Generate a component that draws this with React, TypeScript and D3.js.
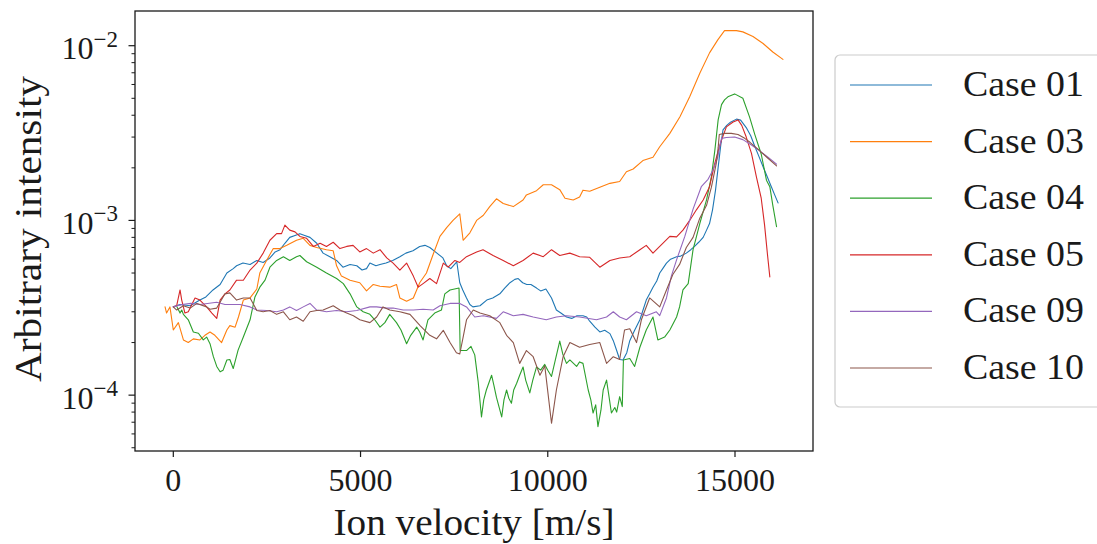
import React from 'react';
import * as d3 from 'd3';

type Pt = [number, number];

// Ion velocity [m/s], arbitrary intensity
const case01: Pt[] = [
  [0, 3.2e-4], [180, 3.3e-4], [450, 3.25e-4], [710, 3.5e-4], [870, 3.65e-4], [1060, 4.0e-4], [1250, 4.3e-4],
  [1430, 5.0e-4], [1600, 5.3e-4], [1690, 5.5e-4], [1860, 5.7e-4], [2050, 5.6e-4], [2230, 5.9e-4], [2400, 5.75e-4],
  [2580, 6.1e-4], [2720, 6.6e-4], [2850, 6.8e-4], [2980, 7.4e-4], [3110, 8.0e-4], [3250, 8.2e-4], [3380, 8.4e-4],
  [3510, 8.2e-4], [3650, 8.0e-4], [3830, 7.4e-4], [4000, 6.5e-4], [4180, 6.2e-4], [4360, 5.9e-4], [4530, 5.4e-4],
  [4720, 5.6e-4], [4900, 5.5e-4], [5040, 5.2e-4], [5160, 5.3e-4], [5250, 5.7e-4], [5410, 5.5e-4], [5520, 5.6e-4],
  [5680, 5.7e-4], [5860, 5.9e-4], [6050, 6.2e-4], [6210, 6.5e-4], [6400, 6.7e-4], [6580, 7.1e-4], [6720, 7.2e-4],
  [6850, 7.0e-4], [7040, 6.5e-4], [7200, 6.1e-4], [7300, 5.5e-4], [7410, 5.3e-4], [7570, 5.8e-4], [7650, 4.4e-4],
  [7730, 4.0e-4], [7830, 3.6e-4], [7920, 3.3e-4], [8000, 3.2e-4], [8190, 3.25e-4], [8370, 3.5e-4], [8530, 3.6e-4],
  [8720, 3.8e-4], [8850, 4.1e-4], [8990, 4.4e-4], [9120, 4.6e-4], [9210, 4.65e-4], [9330, 4.4e-4], [9440, 4.3e-4],
  [9550, 4.3e-4], [9700, 4.1e-4], [9810, 3.95e-4], [9950, 4.05e-4], [10100, 3.6e-4], [10230, 3.07e-4],
  [10350, 2.95e-4], [10500, 2.8e-4], [10640, 2.75e-4], [10780, 2.85e-4], [10940, 2.85e-4], [11040, 2.8e-4],
  [11120, 2.65e-4], [11260, 2.45e-4], [11390, 2.3e-4], [11520, 2.35e-4], [11660, 2.25e-4], [11750, 2.05e-4],
  [11840, 1.8e-4], [11920, 1.6e-4], [12010, 1.59e-4], [12110, 1.75e-4], [12190, 2.05e-4], [12320, 2.35e-4],
  [12460, 2.7e-4], [12540, 3.05e-4], [12630, 3.5e-4], [12720, 3.8e-4], [12810, 4.15e-4], [12910, 4.5e-4],
  [12990, 5.0e-4], [13070, 5.3e-4], [13170, 5.7e-4], [13280, 6.0e-4], [13440, 6.2e-4], [13550, 6.25e-4],
  [13700, 6.5e-4], [13820, 6.8e-4], [13920, 7.1e-4], [14030, 7.5e-4], [14150, 8.0e-4], [14240, 8.8e-4],
  [14320, 9.6e-4], [14400, 1.15e-3], [14480, 1.49e-3], [14560, 2.1e-3], [14620, 2.7e-3], [14680, 3.3e-3],
  [14780, 3.5e-3], [14880, 3.65e-3], [15040, 3.8e-3], [15150, 3.75e-3], [15300, 3.4e-3], [15420, 3.05e-3],
  [15530, 2.65e-3], [15630, 2.35e-3], [15750, 2.03e-3], [15850, 1.8e-3], [15970, 1.56e-3], [16060, 1.4e-3],
  [16150, 1.26e-3],
];

const case03: Pt[] = [
  [-220, 3.2e-4], [-180, 2.95e-4], [-90, 3.2e-4], [0, 2.36e-4], [135, 2.6e-4], [270, 2.07e-4], [400, 2.0e-4],
  [535, 2.1e-4], [710, 2.07e-4], [845, 2.2e-4], [980, 2.3e-4], [1110, 2.2e-4], [1290, 2.0e-4], [1430, 2.36e-4],
  [1510, 2.5e-4], [1650, 2.45e-4], [1740, 2.8e-4], [1870, 3.5e-4], [2050, 3.6e-4], [2230, 4.05e-4], [2310, 5.0e-4],
  [2490, 5.9e-4], [2670, 6.9e-4], [2850, 6.9e-4], [3030, 7.2e-4], [3290, 7.7e-4], [3470, 7.9e-4], [3650, 7.2e-4],
  [3830, 7.0e-4], [4090, 6.8e-4], [4270, 6.7e-4], [4360, 5.5e-4], [4490, 4.8e-4], [4720, 4.55e-4], [4980, 4.4e-4],
  [5160, 3.95e-4], [5340, 4.3e-4], [5520, 4.2e-4], [5780, 4.15e-4], [5960, 4.3e-4], [6050, 3.6e-4], [6230, 3.45e-4],
  [6410, 3.6e-4], [6580, 4.4e-4], [6760, 5.0e-4], [6940, 6.4e-4], [7120, 8.1e-4], [7300, 9.1e-4], [7470, 1.0e-3],
  [7650, 1.09e-3], [7740, 7.7e-4], [7920, 8.5e-4], [8100, 1.0e-3], [8280, 1.07e-3], [8450, 1.2e-3], [8630, 1.33e-3],
  [8810, 1.25e-3], [9080, 1.2e-3], [9340, 1.31e-3], [9430, 1.4e-3], [9700, 1.48e-3], [9880, 1.6e-3],
  [10100, 1.6e-3], [10320, 1.5e-3], [10460, 1.34e-3], [10680, 1.31e-3], [10850, 1.36e-3], [10940, 1.49e-3],
  [11120, 1.47e-3], [11390, 1.55e-3], [11660, 1.63e-3], [11920, 1.67e-3], [12100, 1.9e-3], [12280, 1.97e-3],
  [12540, 2.2e-3], [12810, 2.3e-3], [12990, 2.64e-3], [13260, 3.15e-3], [13530, 3.92e-3], [13790, 5.1e-3],
  [14060, 6.95e-3], [14320, 9.1e-3], [14540, 1.08e-2], [14720, 1.22e-2], [15040, 1.22e-2], [15210, 1.2e-2],
  [15480, 1.13e-2], [15750, 1.03e-2], [16010, 9.2e-3], [16280, 8.35e-3],
];

const case04: Pt[] = [
  [100, 3.2e-4], [180, 2.95e-4], [225, 3.07e-4], [270, 2.9e-4], [400, 2.7e-4], [535, 2.3e-4], [670, 2.26e-4],
  [800, 2.07e-4], [890, 2.15e-4], [980, 1.97e-4], [1070, 1.66e-4], [1160, 1.46e-4], [1250, 1.36e-4],
  [1330, 1.39e-4], [1430, 1.59e-4], [1510, 1.6e-4], [1600, 1.42e-4], [1730, 1.81e-4], [1870, 2.15e-4],
  [2050, 2.7e-4], [2180, 3.65e-4], [2310, 4.15e-4], [2450, 4.55e-4], [2580, 5.4e-4], [2760, 5.9e-4],
  [2940, 6.2e-4], [3110, 5.9e-4], [3290, 6.2e-4], [3380, 6.3e-4], [3560, 5.8e-4], [3830, 5.4e-4], [4090, 5.0e-4],
  [4360, 4.65e-4], [4540, 4.35e-4], [4720, 3.8e-4], [4900, 3.2e-4], [5070, 3.0e-4], [5250, 2.9e-4], [5380, 2.7e-4],
  [5520, 2.45e-4], [5650, 2.6e-4], [5780, 2.9e-4], [5960, 2.6e-4], [6080, 2.36e-4], [6230, 1.97e-4], [6340, 2.2e-4],
  [6500, 2.45e-4], [6580, 2.3e-4], [6670, 2.07e-4], [6800, 2.7e-4], [6980, 2.95e-4], [7160, 3.07e-4],
  [7250, 3.8e-4], [7390, 4.0e-4], [7630, 4.1e-4], [7660, 1.8e-4], [7830, 1.8e-4], [7950, 1.9e-4], [8050, 1.7e-4],
  [8140, 1.2e-4], [8230, 7.5e-5], [8290, 9.4e-5], [8360, 1.07e-4], [8500, 1.3e-4], [8560, 1.14e-4], [8630, 9.7e-5],
  [8770, 7.5e-5], [8830, 9.4e-5], [8900, 1.07e-4], [8960, 9.6e-5], [9030, 9.0e-5], [9090, 1.07e-4], [9170, 1.17e-4],
  [9250, 1.3e-4], [9340, 1.45e-4], [9410, 1.22e-4], [9520, 1.03e-4], [9600, 1.22e-4], [9700, 1.45e-4],
  [9810, 1.39e-4], [9920, 1.5e-4], [10000, 1.39e-4], [10100, 1.28e-4], [10190, 1.55e-4], [10320, 2.04e-4],
  [10400, 1.72e-4], [10500, 1.52e-4], [10590, 1.59e-4], [10770, 1.46e-4], [10850, 1.55e-4], [10940, 1.52e-4],
  [11080, 1.07e-4], [11150, 9.4e-5], [11210, 7.9e-5], [11280, 8.8e-5], [11340, 6.6e-5], [11420, 8.2e-5],
  [11480, 1.07e-4], [11570, 1.22e-4], [11630, 1.0e-4], [11700, 7.9e-5], [11790, 8.5e-5], [11840, 8.0e-5],
  [11920, 9.8e-5], [11990, 8.6e-5], [12020, 1.59e-4], [12190, 1.62e-4], [12320, 1.46e-4], [12460, 1.88e-4],
  [12630, 2.36e-4], [12810, 2.8e-4], [12940, 2.07e-4], [13120, 2.15e-4], [13260, 2.36e-4], [13440, 2.8e-4],
  [13520, 3.2e-4], [13610, 4.0e-4], [13750, 4.35e-4], [13880, 6.8e-4], [14060, 9.6e-4], [14240, 1.31e-3],
  [14370, 1.78e-3], [14460, 2.5e-3], [14550, 3.76e-3], [14640, 4.6e-3], [14720, 4.9e-3], [14810, 5.1e-3],
  [14990, 5.3e-3], [15210, 5.0e-3], [15390, 3.9e-3], [15530, 3.1e-3], [15700, 2.4e-3], [15840, 1.7e-3],
  [15930, 1.56e-3], [16010, 1.22e-3], [16110, 9.2e-4],
];

const case05: Pt[] = [
  [0, 3.2e-4], [90, 3.25e-4], [180, 4.0e-4], [225, 3.5e-4], [310, 2.95e-4], [400, 3.0e-4], [580, 3.6e-4],
  [710, 3.5e-4], [890, 3.2e-4], [1030, 2.95e-4], [1160, 2.75e-4], [1250, 3.5e-4], [1380, 3.8e-4], [1510, 4.0e-4],
  [1690, 4.55e-4], [1870, 4.55e-4], [2050, 5.2e-4], [2230, 5.7e-4], [2400, 6.5e-4], [2580, 7.7e-4], [2760, 8.4e-4],
  [2890, 8.4e-4], [2980, 9.4e-4], [3110, 8.8e-4], [3250, 8.6e-4], [3380, 8.1e-4], [3560, 7.9e-4], [3740, 7.1e-4],
  [3920, 7.4e-4], [4090, 7.1e-4], [4270, 7.5e-4], [4450, 6.9e-4], [4630, 7.1e-4], [4800, 7.2e-4], [4980, 6.6e-4],
  [5160, 6.9e-4], [5340, 6.5e-4], [5520, 6.8e-4], [5700, 6.1e-4], [5870, 5.7e-4], [6050, 5.2e-4], [6230, 5.7e-4],
  [6410, 4.8e-4], [6540, 4.15e-4], [6670, 4.35e-4], [6850, 4.65e-4], [7030, 4.35e-4], [7210, 5.7e-4],
  [7340, 5.4e-4], [7520, 5.9e-4], [7650, 5.75e-4], [7830, 6.2e-4], [8100, 6.6e-4], [8270, 6.8e-4], [8540, 6.3e-4],
  [8810, 5.9e-4], [9080, 5.5e-4], [9340, 5.9e-4], [9610, 6.5e-4], [9880, 6.2e-4], [10100, 6.8e-4], [10320, 6.3e-4],
  [10590, 6.5e-4], [10850, 6.2e-4], [11120, 6.15e-4], [11390, 5.4e-4], [11660, 5.9e-4], [11920, 6.1e-4],
  [12190, 6.2e-4], [12460, 6.8e-4], [12630, 7.2e-4], [12810, 6.5e-4], [12990, 7.1e-4], [13260, 8.1e-4],
  [13440, 8.05e-4], [13610, 8.8e-4], [13790, 1.0e-3], [13970, 1.15e-3], [14150, 1.31e-3], [14320, 1.56e-3],
  [14460, 2.12e-3], [14560, 2.53e-3], [14640, 2.88e-3], [14770, 3.43e-3], [14950, 3.66e-3], [15080, 3.76e-3],
  [15180, 3.5e-3], [15300, 3.0e-3], [15440, 2.42e-3], [15570, 1.78e-3], [15700, 1.34e-3], [15790, 9.4e-4],
  [15870, 6.3e-4], [15930, 4.75e-4],
];

const case09: Pt[] = [
  [0, 3.2e-4], [230, 3.3e-4], [470, 3.35e-4], [710, 3.3e-4], [1160, 3.4e-4], [1380, 3.3e-4], [1780, 3.3e-4],
  [2050, 3.2e-4], [2230, 3.07e-4], [2490, 3.05e-4], [2760, 3.0e-4], [2940, 3.07e-4], [3110, 3.2e-4],
  [3290, 3.05e-4], [3470, 3.2e-4], [3650, 3.35e-4], [3830, 3.07e-4], [4090, 3.0e-4], [4360, 3.05e-4],
  [4630, 3.0e-4], [4900, 3.05e-4], [5250, 3.2e-4], [5430, 3.2e-4], [5690, 3.15e-4], [5870, 3.15e-4],
  [6140, 3.07e-4], [6410, 3.07e-4], [6670, 3.1e-4], [6940, 3.07e-4], [7120, 3.25e-4], [7390, 3.35e-4],
  [7650, 3.35e-4], [7830, 3.2e-4], [8050, 2.8e-4], [8280, 2.85e-4], [8630, 2.75e-4], [8810, 3.0e-4],
  [9080, 2.85e-4], [9340, 2.9e-4], [9610, 2.8e-4], [9960, 2.7e-4], [10230, 2.8e-4], [10500, 2.85e-4],
  [10850, 2.8e-4], [11300, 2.7e-4], [11570, 2.8e-4], [11750, 3.0e-4], [11920, 2.8e-4], [12100, 2.7e-4],
  [12370, 3.0e-4], [12630, 2.85e-4], [12900, 3.0e-4], [12990, 2.85e-4], [13170, 3.6e-4], [13300, 4.8e-4],
  [13440, 5.95e-4], [13660, 8.1e-4], [13880, 1.16e-3], [14100, 1.56e-3], [14280, 1.72e-3], [14410, 1.94e-3],
  [14540, 2.3e-3], [14590, 2.65e-3], [14640, 2.95e-3], [14770, 2.98e-3], [14990, 3.0e-3], [15210, 2.9e-3],
  [15440, 2.7e-3], [15660, 2.5e-3], [15880, 2.3e-3], [16110, 2.1e-3],
];

const case10: Pt[] = [
  [0, 3.2e-4], [90, 3.07e-4], [270, 3.25e-4], [450, 3.15e-4], [630, 3.35e-4], [890, 3.2e-4], [980, 3.1e-4],
  [1160, 3.15e-4], [1380, 3.8e-4], [1510, 3.85e-4], [1690, 3.5e-4], [1870, 3.6e-4], [2050, 3.6e-4], [2180, 3.2e-4],
  [2230, 3.05e-4], [2400, 3.0e-4], [2580, 3.05e-4], [2760, 2.9e-4], [2940, 3.0e-4], [3110, 2.7e-4], [3290, 2.8e-4],
  [3470, 2.65e-4], [3650, 3.0e-4], [3830, 3.05e-4], [4000, 3.07e-4], [4270, 3.25e-4], [4450, 3.07e-4],
  [4630, 2.95e-4], [4810, 2.85e-4], [4980, 2.7e-4], [5250, 2.6e-4], [5430, 2.8e-4], [5600, 3.2e-4], [5780, 3.07e-4],
  [6050, 3.0e-4], [6320, 2.9e-4], [6590, 2.5e-4], [6850, 2.2e-4], [7030, 2.1e-4], [7210, 2.35e-4], [7390, 2.0e-4],
  [7560, 1.75e-4], [7650, 1.72e-4], [7740, 2.15e-4], [7830, 2.7e-4], [8010, 3.07e-4], [8190, 2.95e-4],
  [8450, 2.85e-4], [8720, 2.6e-4], [8900, 2.2e-4], [9080, 2.0e-4], [9250, 1.52e-4], [9430, 1.8e-4], [9610, 1.66e-4],
  [9790, 1.3e-4], [9920, 1.47e-4], [10100, 6.9e-5], [10230, 1.07e-4], [10410, 1.66e-4], [10590, 2.0e-4],
  [10850, 1.88e-4], [11120, 1.95e-4], [11390, 2.0e-4], [11570, 1.52e-4], [11750, 1.66e-4], [11920, 1.6e-4],
  [12050, 2.36e-4], [12190, 2.4e-4], [12370, 2.0e-4], [12500, 2.7e-4], [12720, 3.6e-4], [12990, 3.2e-4],
  [13170, 4.0e-4], [13340, 4.9e-4], [13520, 5.6e-4], [13700, 7.0e-4], [13880, 8.0e-4], [14060, 1.03e-3],
  [14240, 1.22e-3], [14370, 1.55e-3], [14500, 2.12e-3], [14550, 2.6e-3], [14580, 3.1e-3], [14720, 3.15e-3],
  [14900, 3.15e-3], [15080, 3.1e-3], [15260, 2.95e-3], [15400, 2.8e-3], [15620, 2.55e-3], [15850, 2.3e-3],
  [16110, 2.05e-3],
];

const seriesNames = ['Case 01', 'Case 03', 'Case 04', 'Case 05', 'Case 09', 'Case 10'];
const seriesData = [case01, case03, case04, case05, case09, case10];
const seriesColors = ['#1f77b4', '#ff7f0e', '#2ca02c', '#d62728', '#9467bd', '#8c564b'];

const xTicks = [0, 5000, 10000, 15000];
const yTickExponents = [-2, -3, -4];

const FONT = '"Liberation Serif", "Times New Roman", serif';

export default function App() {
  const W = 1097;
  const H = 544;
  const left = 135, right = 813, top = 11, bottom = 451;

  const x = d3.scaleLinear().domain([-1023, 17083]).range([left, right]);
  const y = d3.scaleLog().domain([4.79e-5, 1.58e-2]).range([bottom, top]);
  const line = d3.line<Pt>().x(d => x(d[0])).y(d => y(d[1]));

  const [y0, y1] = y.domain();
  const minor: number[] = [];
  for (let e = -6; e <= -1; e++) {
    for (let k = 2; k <= 9; k++) {
      const v = k * Math.pow(10, e);
      if (v >= y0 && v <= y1) minor.push(v);
    }
  }

  const ink = '#1a1a1a';
  const legendX = 835, legendY = 55;
  const rowY = (i: number) => 85 + i * 56.6;

  return (
    <svg width={W} height={H} viewBox={`0 0 ${W} ${H}`}
      style={{ position: 'absolute', left: 0, top: 0, background: '#fff' }}
      fontFamily={FONT}>
      <rect x={0} y={0} width={W} height={H} fill="#fff" />
      <defs>
        <clipPath id="plotClip">
          <rect x={left} y={top} width={right - left} height={bottom - top} />
        </clipPath>
      </defs>

      <g clipPath="url(#plotClip)" fill="none">
        {seriesData.map((d, i) => (
          <path key={seriesNames[i]} d={line(d) || ''} stroke={seriesColors[i]} strokeWidth={1.1}
            strokeLinejoin="round" strokeLinecap="round" />
        ))}
      </g>

      {/* frame */}
      <rect x={left} y={top} width={right - left} height={bottom - top} fill="none" stroke={ink} strokeWidth={1.3} />

      {/* x ticks */}
      {xTicks.map(t => (
        <g key={t}>
          <line x1={x(t)} x2={x(t)} y1={bottom} y2={bottom + 6} stroke={ink} strokeWidth={1.2} />
          <text x={x(t)} y={491} textAnchor="middle" fontSize={32} fill={ink}>{t}</text>
        </g>
      ))}

      {/* y minor ticks */}
      {minor.map(v => (
        <line key={v} x1={left - 3.5} x2={left} y1={y(v)} y2={y(v)} stroke={ink} strokeWidth={1} />
      ))}
      {/* y major ticks */}
      {yTickExponents.map(e => {
        const yy = y(Math.pow(10, e));
        return (
          <g key={e}>
            <line x1={left - 6.5} x2={left} y1={yy} y2={yy} stroke={ink} strokeWidth={1.2} />
            <text x={118} y={yy + 13.5} textAnchor="end" fill={ink} fontSize={32}>
              <tspan>10</tspan>
              <tspan dy={-12.5} fontSize={23}>{'\u2212' + Math.abs(e)}</tspan>
            </text>
          </g>
        );
      })}

      {/* axis labels */}
      <text x={(left + right) / 2} y={535} textAnchor="middle" fontSize={37} fill={ink}
        textLength={281} lengthAdjust="spacingAndGlyphs">Ion velocity [m/s]</text>
      <text transform={`translate(41, ${(top + bottom) / 2 - 2}) rotate(-90)`} textAnchor="middle" fontSize={37}
        fill={ink} textLength={306} lengthAdjust="spacingAndGlyphs">Arbitrary intensity</text>

      {/* legend */}
      <rect x={legendX} y={legendY} width={290} height={352} rx={5} ry={5} fill="#fff" fillOpacity={0.85}
        stroke="#cccccc" strokeWidth={1.2} />
      {seriesNames.map((n, i) => (
        <g key={n}>
          <line x1={850} x2={932} y1={rowY(i)} y2={rowY(i)} stroke={seriesColors[i]} strokeWidth={1.2} />
          <text x={963} y={rowY(i) + 11} fontSize={36} fill={ink} textLength={121}
            lengthAdjust="spacingAndGlyphs">{n}</text>
        </g>
      ))}
    </svg>
  );
}
